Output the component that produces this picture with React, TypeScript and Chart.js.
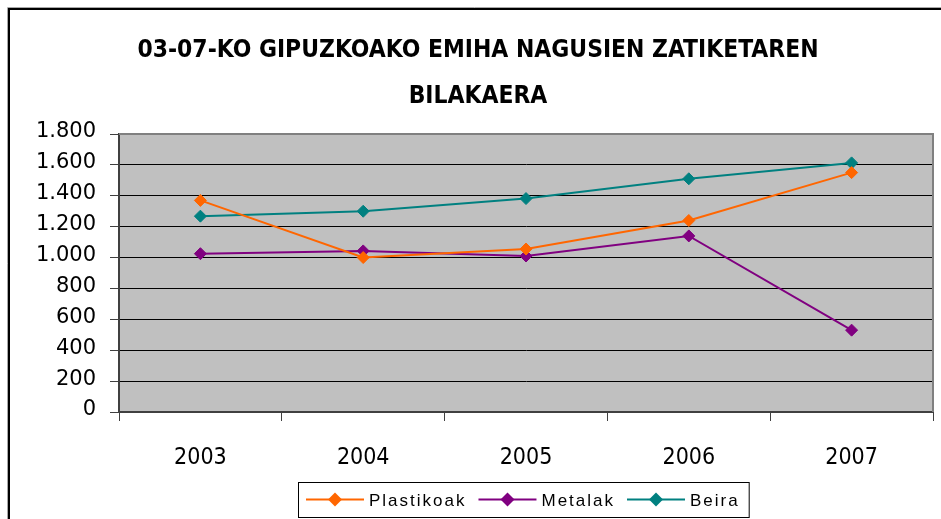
import React, { useEffect, useRef } from "react";
import { Chart, registerables } from "chart.js";

Chart.register(...registerables);

const categories = ["2003", "2004", "2005", "2006", "2007"];
const plastikoak = [1370, 1000, 1055, 1240, 1550];
const metalak = [1025, 1043, 1010, 1140, 530];
const beira = [1268, 1300, 1382, 1510, 1613];
const seriesNames = ["Plastikoak", "Metalak", "Beira"];
const seriesColors = ["#FF6600", "#800080", "#008080"];
const titleLines = ["03-07-KO GIPUZKOAKO EMIHA NAGUSIEN ZATIKETAREN", "BILAKAERA"];
const yMin = 0;
const yMax = 1800;
const yStep = 200;

function formatThousands(v: number): string {
  const s = Math.round(v).toString();
  return s.replace(/\B(?=(\d{3})+(?!\d))/g, ".");
}

const framePlugin = {
  id: "framePlugin",
  beforeDraw(chart: any) {
    const { ctx, chartArea } = chart;
    ctx.save();
    ctx.fillStyle = "#ffffff";
    ctx.fillRect(0, 0, chart.width, chart.height);
    ctx.fillStyle = "#C0C0C0";
    ctx.fillRect(chartArea.left, chartArea.top, chartArea.right - chartArea.left, chartArea.bottom - chartArea.top);
    ctx.strokeStyle = "#a8a8a8";
    ctx.lineWidth = 1;
    ctx.beginPath();
    ctx.moveTo(7.5, chart.height);
    ctx.lineTo(7.5, 7.5);
    ctx.lineTo(chart.width, 7.5);
    ctx.stroke();
    ctx.strokeStyle = "#000000";
    ctx.lineWidth = 2;
    ctx.beginPath();
    ctx.moveTo(9, chart.height);
    ctx.lineTo(9, 9);
    ctx.lineTo(chart.width, 9);
    ctx.stroke();
    ctx.restore();
  },
  beforeDatasetsDraw(chart: any) {
    const { ctx, chartArea } = chart;
    ctx.save();
    ctx.strokeStyle = "#808080";
    ctx.lineWidth = 2;
    ctx.beginPath();
    ctx.moveTo(chartArea.left, chartArea.top);
    ctx.lineTo(chartArea.right, chartArea.top);
    ctx.lineTo(chartArea.right, chartArea.bottom);
    ctx.stroke();
    ctx.restore();
  },
  afterDraw(chart: any) {
    const { ctx, chartArea } = chart;
    const datasets = chart.data.datasets;
    ctx.save();
    ctx.font = "17px 'Liberation Sans', Arial, sans-serif";
    (ctx as any).letterSpacing = "2px";
    const lineLen = 58;
    const gapText = 5;
    const gapItem = 12;
    const padL = 8;
    const padR = 9;
    const widths = datasets.map((d: any) => ctx.measureText(d.label).width);
    let total = padL + padR;
    widths.forEach((w: number, i: number) => {
      total += lineLen + gapText + w;
      if (i < widths.length - 1) total += gapItem;
    });
    const cx = (chartArea.left + chartArea.right) / 2 - 2.5;
    const left = Math.round(cx - total / 2);
    const top = 482;
    const h = 35;
    ctx.fillStyle = "#ffffff";
    ctx.fillRect(left, top, total, h);
    ctx.strokeStyle = "#000000";
    ctx.lineWidth = 1;
    ctx.strokeRect(left + 0.5, top + 0.5, total, h);
    const midY = top + 17.5;
    let x = left + padL;
    datasets.forEach((d: any, i: number) => {
      ctx.strokeStyle = d.borderColor;
      ctx.lineWidth = 2;
      ctx.beginPath();
      ctx.moveTo(x, midY);
      ctx.lineTo(x + lineLen, midY);
      ctx.stroke();
      const dx = x + lineLen / 2;
      const r = 7;
      ctx.fillStyle = d.borderColor;
      ctx.beginPath();
      ctx.moveTo(dx - r, midY);
      ctx.lineTo(dx, midY - r);
      ctx.lineTo(dx + r, midY);
      ctx.lineTo(dx, midY + r);
      ctx.closePath();
      ctx.fill();
      x += lineLen + gapText;
      ctx.fillStyle = "#000000";
      ctx.textBaseline = "alphabetic";
      ctx.textAlign = "left";
      ctx.fillText(d.label, x, midY + 6);
      x += widths[i] + gapItem;
    });
    ctx.restore();
  },
};

export default function App() {
  const canvasRef = useRef<HTMLCanvasElement | null>(null);

  useEffect(() => {
    if (!canvasRef.current) return;
    const seriesData = [plastikoak, metalak, beira];
    const chart = new Chart(canvasRef.current, {
      type: "line",
      data: {
        labels: categories,
        datasets: seriesData.map((vals, i) => ({
          label: seriesNames[i],
          data: vals,
          borderColor: seriesColors[i],
          backgroundColor: seriesColors[i],
          pointBackgroundColor: seriesColors[i],
          pointBorderColor: seriesColors[i],
          borderWidth: 2,
          pointStyle: "rectRot",
          pointRadius: 6,
          pointBorderWidth: 1,
          tension: 0,
          fill: false,
        })),
      },
      options: {
        animation: false,
        responsive: false,
        devicePixelRatio: 1,
        layout: { padding: { top: 0, left: 23, right: 8, bottom: 47 } },
        plugins: {
          legend: { display: false },
          tooltip: { enabled: false },
          title: {
            display: true,
            text: titleLines,
            color: "#000000",
            font: { family: "'Liberation Sans Narrow', 'DejaVu Sans Condensed', sans-serif", size: 24.4, weight: "bold", lineHeight: "46px" },
            padding: { top: 28, bottom: 14 },
          },
        },
        scales: {
          x: {
            offset: true,
            afterFit: (scale: any) => {
              scale.height = 60;
            },
            grid: {
              offset: true,
              drawOnChartArea: false,
              drawTicks: true,
              tickLength: 9,
              color: "#404040",
              lineWidth: 1,
            },
            border: { color: "#404040", width: 2 },
            ticks: {
              color: "#000000",
              padding: 23,
              font: { family: "'Liberation Sans Narrow', 'DejaVu Sans Condensed', sans-serif", size: 23 },
            },
          },
          y: {
            min: yMin,
            max: yMax,
            afterFit: (scale: any) => {
              scale.width = 96;
            },
            grid: {
              color: "#000000",
              lineWidth: 1,
              drawTicks: true,
              tickLength: 9,
              tickColor: "#404040",
            },
            border: { color: "#404040", width: 2 },
            ticks: {
              stepSize: yStep,
              color: "#000000",
              padding: 14,
              labelOffset: -2,
              font: { family: "'DejaVu Sans', Verdana, sans-serif", size: 21 },
              callback: (v: any) => formatThousands(Number(v)),
            },
          },
        },
      },
      plugins: [framePlugin],
    });
    return () => chart.destroy();
  }, []);

  return (
    <div style={{ position: "fixed", left: 0, top: 0, width: 941, height: 519, overflow: "hidden", background: "#fff" }}>
      <canvas ref={canvasRef} width={941} height={519} style={{ display: "block", width: 941, height: 519 }} />
    </div>
  );
}
